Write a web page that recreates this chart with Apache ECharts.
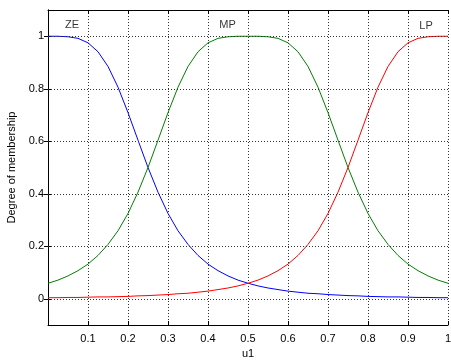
<!DOCTYPE html>
<html>
<head>
<meta charset="utf-8">
<script src="https://cdn.jsdelivr.net/npm/echarts@6/dist/echarts.min.js"></script>
<style>html,body{margin:0;padding:0;background:#fff;}#c{width:451px;height:360px;}</style>
</head>
<body>
<div id="c"></div>
<script>
var xs = [0,0.025,0.05,0.075,0.1,0.125,0.15,0.175,0.2,0.225,0.25,0.275,0.3,0.325,0.35,0.375,0.4,0.425,0.45,0.475,0.5,0.525,0.55,0.575,0.6,0.625,0.65,0.675,0.7,0.725,0.75,0.775,0.8,0.825,0.85,0.875,0.9,0.925,0.95,0.975,1];
var ze = [1.000,1.000,0.998,0.992,0.975,0.941,0.885,0.806,0.709,0.604,0.500,0.406,0.325,0.259,0.207,0.165,0.132,0.107,0.087,0.071,0.059,0.049,0.041,0.035,0.029,0.025,0.021,0.019,0.016,0.014,0.012,0.011,0.009,0.008,0.007,0.007,0.006,0.005,0.005,0.004,0.004];
var mp = [0.059,0.071,0.087,0.107,0.132,0.165,0.207,0.259,0.325,0.406,0.500,0.604,0.709,0.806,0.885,0.941,0.975,0.992,0.998,1.000,1.000,1.000,0.998,0.992,0.975,0.941,0.885,0.806,0.709,0.604,0.500,0.406,0.325,0.259,0.207,0.165,0.132,0.107,0.087,0.071,0.059];
var lp = [0.004,0.004,0.005,0.005,0.006,0.007,0.007,0.008,0.009,0.011,0.012,0.014,0.016,0.019,0.021,0.025,0.029,0.035,0.041,0.049,0.059,0.071,0.087,0.107,0.132,0.165,0.207,0.259,0.325,0.406,0.500,0.604,0.709,0.806,0.885,0.941,0.975,0.992,0.998,1.000,1.000];
var yTicks = [0,0.2,0.4,0.6,0.8,1];
var mfNames = ['ZE','MP','LP'];
var mfLabelX = [0.06,0.449,0.945];
var mfLabelY = [1.042,1.042,1.038];

function pairs(y){ return xs.map(function(x,i){ return [x,y[i]]; }); }
var font = 'Arial, "Liberation Sans", sans-serif';
var chart = echarts.init(document.getElementById('c'), null, {renderer:'canvas'});

var gridLine = {type:[1,2], color:'#333', width:1};
var baseY = {
  type:'value', min:-0.1, max:1.1,
  axisLine:{show:true, lineStyle:{color:'#000', width:1}},
  splitLine:{show:false}
};

chart.setOption({
  animation:false,
  grid:{left:48, right:3, top:10, bottom:35, containLabel:false, outerBoundsMode:'none'},
  xAxis:[
    {type:'value', min:0, max:1, interval:0.1, position:'bottom',
     name:'u1', nameLocation:'middle', nameGap:21,
     nameTextStyle:{color:'#000', fontSize:11, fontFamily:font},
     axisLine:{show:true, onZero:false, lineStyle:{color:'#000', width:1}},
     axisTick:{show:true, inside:true, length:4, lineStyle:{color:'#000'}},
     axisLabel:{show:true, showMinLabel:false, color:'#000', fontSize:11, fontFamily:font, margin:8},
     splitLine:{show:true, lineStyle:gridLine}},
    {type:'value', min:0, max:1, interval:0.1, position:'top',
     axisLine:{show:true, onZero:false, lineStyle:{color:'#000', width:1}},
     axisTick:{show:true, inside:true, length:4, lineStyle:{color:'#000'}},
     axisLabel:{show:false}, splitLine:{show:false}}
  ],
  yAxis:[
    Object.assign({}, baseY, {position:'left',
      name:'Degree of membership', nameLocation:'middle', nameGap:29, nameRotate:90,
      nameTextStyle:{color:'#000', fontSize:11, fontFamily:font},
      axisTick:{show:true, inside:true, length:4, customValues:yTicks, lineStyle:{color:'#000'}},
      axisLabel:{show:true, customValues:yTicks, color:'#000', fontSize:11, fontFamily:font, margin:4,
        formatter:function(v){ return String(Math.round(v*10)/10); }}}),
    Object.assign({}, baseY, {position:'right',
      axisTick:{show:true, inside:true, length:4, customValues:yTicks, lineStyle:{color:'#000'}},
      axisLabel:{show:false}})
  ],
  series:[
    {type:'line', name:'ZE', data:pairs(ze), showSymbol:false, symbol:'none',
     lineStyle:{color:'#0000ff', width:1}, z:3,
     markLine:{silent:true, symbol:['none','none'], label:{show:false},
       lineStyle:gridLine, data: yTicks.map(function(v){ return {yAxis:v}; })}},
    {type:'line', name:'MP', data:pairs(mp), showSymbol:false, symbol:'none',
     lineStyle:{color:'#008000', width:1}, z:3},
    {type:'line', name:'LP', data:pairs(lp), showSymbol:false, symbol:'none',
     lineStyle:{color:'#ff0000', width:1}, z:3},
    {type:'scatter', symbolSize:0, z:4,
     data: mfNames.map(function(n,i){ return {value:[mfLabelX[i], mfLabelY[i]], name:n}; }),
     label:{show:true, position:'inside', formatter:'{b}', color:'#000', fontSize:11, fontFamily:font}}
  ]
});
</script>
</body>
</html>
